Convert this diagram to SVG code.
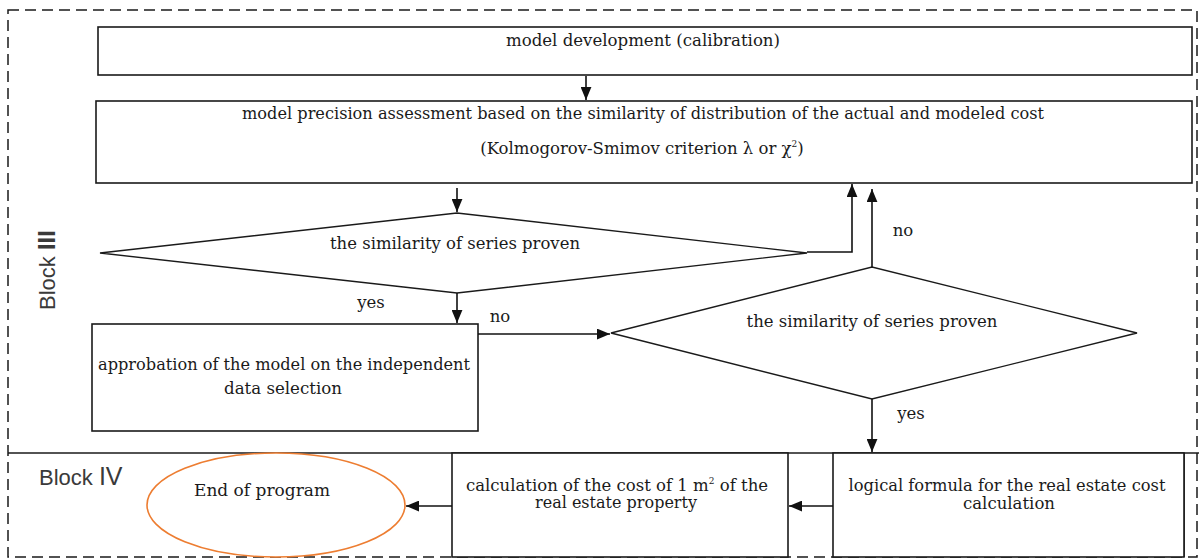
<svg xmlns="http://www.w3.org/2000/svg" width="1199" height="560" viewBox="0 0 1199 560">
<style>
.box{fill:#fff;stroke:#1a1a1a;stroke-width:1.6}
.dia{fill:#fff;stroke:#1a1a1a;stroke-width:1.4}
.t{font-family:"DejaVu Serif","Liberation Serif",serif;font-size:16.5px;fill:#1a1a1a;text-anchor:middle}
.lbl{font-family:"Liberation Sans",Arial,sans-serif;fill:#3a3a3a}
.con{fill:none;stroke:#111;stroke-width:1.6}
</style>
<defs>
<marker id="ah" viewBox="0 0 12 10" refX="12" refY="5" markerWidth="13" markerHeight="11" markerUnits="userSpaceOnUse" orient="auto">
<path d="M0,0 L12,5 L0,10 z" fill="#111"/>
</marker>
</defs>
<rect width="1199" height="560" fill="#fff"/>
<g id="frame">
<rect x="8" y="10" width="1189" height="547" fill="none" stroke="#1a1a1a" stroke-width="1.5" stroke-dasharray="11,6"/>
<line x1="8" y1="453" x2="1199" y2="453" stroke="#1a1a1a" stroke-width="1.6"/>
<line x1="1184" y1="453" x2="1184" y2="557" stroke="#1a1a1a" stroke-width="1.6"/>
</g>
<g id="block3-label">
<text class="lbl" transform="translate(55,270) rotate(-90)" text-anchor="middle" font-size="22"><tspan>Block </tspan><tspan font-weight="bold" font-size="24">III</tspan></text>
</g>
<g id="block4-label">
<text class="lbl" x="39" y="485" font-size="22">Block <tspan font-size="25">IV</tspan></text>
</g>
<g id="n1">
<rect class="box" x="98" y="27" width="1094" height="48"/>
<text class="t" x="643" y="46" textLength="274" lengthAdjust="spacingAndGlyphs">model development (calibration)</text>
</g>
<g id="n2">
<rect class="box" x="96" y="101" width="1096" height="82"/>
<text class="t" x="643" y="119" textLength="802" lengthAdjust="spacingAndGlyphs">model precision assessment based on the similarity of distribution of the actual and modeled cost</text>
<text class="t" x="642" y="154">(Kolmogorov-Smimov criterion λ or χ<tspan font-size="9" dy="-7">2</tspan><tspan dy="7">)</tspan></text>
</g>
<g id="n3">
<polygon class="dia" points="100,253 457,213 807,253 457,293"/>
<text class="t" x="455" y="249" textLength="250" lengthAdjust="spacingAndGlyphs">the similarity of series proven</text>
</g>
<g id="n4">
<rect class="box" x="92" y="324" width="386" height="107"/>
<text class="t" x="284" y="370" textLength="372" lengthAdjust="spacingAndGlyphs">approbation of the model on the independent</text>
<text class="t" x="283" y="394" textLength="118" lengthAdjust="spacingAndGlyphs">data selection</text>
</g>
<g id="n5">
<polygon class="dia" points="611,333 872,267 1137,333 872,399"/>
<text class="t" x="872" y="327" textLength="251" lengthAdjust="spacingAndGlyphs">the similarity of series proven</text>
</g>
<g id="n6">
<rect class="box" x="833" y="453" width="351" height="104"/>
<text class="t" x="1007" y="491" textLength="317" lengthAdjust="spacingAndGlyphs">logical formula for the real estate cost</text>
<text class="t" x="1009" y="509" textLength="92" lengthAdjust="spacingAndGlyphs">calculation</text>
</g>
<g id="n7">
<rect class="box" x="452" y="453" width="336" height="104"/>
<text class="t" x="617" y="491">calculation of the cost of 1 m<tspan font-size="9" dy="-7">2</tspan><tspan dy="7"> of the</tspan></text>
<text class="t" x="616" y="508" textLength="162" lengthAdjust="spacingAndGlyphs">real estate property</text>
</g>
<g id="n8">
<ellipse cx="276" cy="505" rx="129" ry="52" fill="#fff" stroke="#ED7D31" stroke-width="1.6"/>
<text class="t" x="262" y="496" textLength="136" lengthAdjust="spacingAndGlyphs">End of program</text>
</g>
<g id="connectors">
<path class="con" d="M586,76 V100" marker-end="url(#ah)"/>
<path class="con" d="M457,188 V212" marker-end="url(#ah)"/>
<path class="con" d="M807,252 H852 V184" marker-end="url(#ah)"/>
<path class="con" d="M457,293 V323" marker-end="url(#ah)"/>
<path class="con" d="M478,334 H610" marker-end="url(#ah)"/>
<path class="con" d="M872,267 V189" marker-end="url(#ah)"/>
<path class="con" d="M872,399 V452" marker-end="url(#ah)"/>
<path class="con" d="M833,506 H789" marker-end="url(#ah)"/>
<path class="con" d="M452,506 H406" marker-end="url(#ah)"/>
<text class="t" x="371" y="308">yes</text>
<text class="t" x="500" y="322">no</text>
<text class="t" x="903" y="236">no</text>
<text class="t" x="911" y="419">yes</text>
</g>
</svg>
